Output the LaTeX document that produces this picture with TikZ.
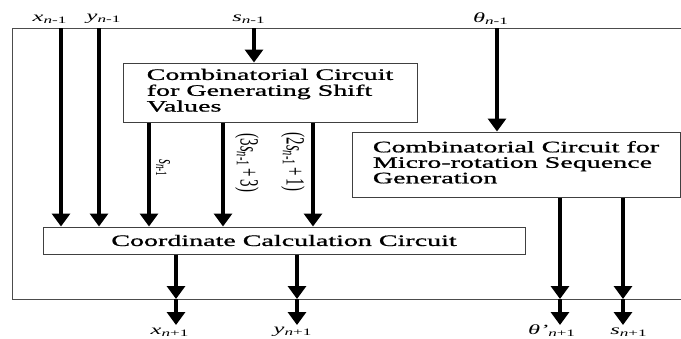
\documentclass[tikz,border=0pt]{standalone}
\usepackage{fontspec}
\setmainfont{Liberation Serif}
\newfontfamily\heavy{Liberation Serif}[FakeBold=0.8]
\usepackage{graphicx}
\usetikzlibrary{arrows.meta}
\newcommand{\hstr}[1]{\scalebox{1.75}[1]{#1}}
\newcommand{\vstr}[1]{\scalebox{1}[1.75]{#1}}
\newcommand{\lbl}[3]{\hstr{\textit{#1}\textsubscript{\textit{#2}#3}}}
\begin{document}
\begin{tikzpicture}[x=1pt,y=-1pt,
  box/.style={draw=black!75, line width=1pt, rectangle, inner sep=0pt,
    font=\heavy\fontsize{16}{15.5}\selectfont},
  sig/.style={line width=4pt, -{Triangle[length=13pt,width=18pt]}},
  frame/.style={draw=black!70, line width=1pt},
  io/.style={inner sep=0pt, font=\fontsize{14}{14}\selectfont},
  rot/.style={inner sep=0pt, rotate=-90, font=\fontsize{15}{15}\selectfont}]
\useasboundingbox (0,0) rectangle (681,338);
% outer frame
\draw[frame] (681,28) -- (12,28) -- (12,299) -- (681,299);
% boxes
\node[box, minimum width=294pt, minimum height=59pt] (sbox) at (270,92.5)
  {\hstr{\begin{tabular}{@{}l@{}}Combinatorial Circuit\\for Generating Shift\\Values\end{tabular}}};
\node[box, minimum width=328pt, minimum height=65pt] (rbox) at (516,164.5)
  {\hstr{\begin{tabular}{@{}l@{}}Combinatorial Circuit for\\Micro-rotation Sequence\\Generation\end{tabular}}};
\node[box, minimum width=482pt, minimum height=27pt] (cbox) at (284,240.5)
  {\hstr{Coordinate Calculation Circuit}};
% input coordinates on the frame
\coordinate (xi) at (61,28);
\coordinate (yi) at (99,28);
\coordinate (si) at (254,28);
\coordinate (ti) at (497,28);
% input labels
\node[io] (lx) at (50,19) {\lbl{x}{n}{-1}};
\node[io] (ly) at (104,19) {\lbl{y}{n}{-1}};
\node[io] (ls) at (249,19) {\lbl{s}{n}{-1}};
\node[io] (lt) at (491,19) {\lbl{θ}{n}{-1}};
% input arrows
\draw[sig] (xi) -- (xi |- cbox.north);
\draw[sig] (yi) -- (yi |- cbox.north);
\draw[sig] (si) -- (si |- sbox.north);
\draw[sig] (ti) -- (ti |- rbox.north);
% shift box to coordinate box
\coordinate (a1) at (149,0);
\coordinate (a2) at (223,0);
\coordinate (a3) at (313,0);
\draw[sig] (sbox.south -| a1) -- (cbox.north -| a1);
\draw[sig] (sbox.south -| a2) -- (cbox.north -| a2);
\draw[sig] (sbox.south -| a3) -- (cbox.north -| a3);
\node[rot, font=\fontsize{13}{13}\selectfont] (r1) at (163,168) {\vstr{\textit{s}\textsubscript{\textit{n}-1}}};
\node[rot] (r2) at (247,163) {\vstr{(3\textit{s}\textsubscript{\textit{n}-1}\,+\,3)}};
\node[rot] (r3) at (293,162) {\vstr{(2\textit{s}\textsubscript{\textit{n}-1}\,+\,1)}};
% outputs
\coordinate (o1) at (176,299);
\coordinate (o2) at (297,299);
\coordinate (o3) at (560,299);
\coordinate (o4) at (623,299);
\coordinate (e1) at (176,325);
\coordinate (e2) at (297,325);
\coordinate (e3) at (560,325);
\coordinate (e4) at (623,325);
\draw[sig] (cbox.south -| o1) -- (o1);
\draw[sig] (o1) -- (e1);
\draw[sig] (cbox.south -| o2) -- (o2);
\draw[sig] (o2) -- (e2);
\draw[sig] (rbox.south -| o3) -- (o3);
\draw[sig] (o3) -- (e3);
\draw[sig] (rbox.south -| o4) -- (o4);
\draw[sig] (o4) -- (e4);
% output labels
\node[io, anchor=south] (lx2) at (170,337) {\lbl{x}{n}{+1}};
\node[io, anchor=south] (ly2) at (293,337) {\lbl{y}{n}{+1}};
\node[io, anchor=south] (lt2) at (552,337) {\lbl{θ'}{n}{+1}};
\node[io, anchor=south] (ls2) at (629,337) {\lbl{s}{n}{+1}};
\end{tikzpicture}
\end{document}
